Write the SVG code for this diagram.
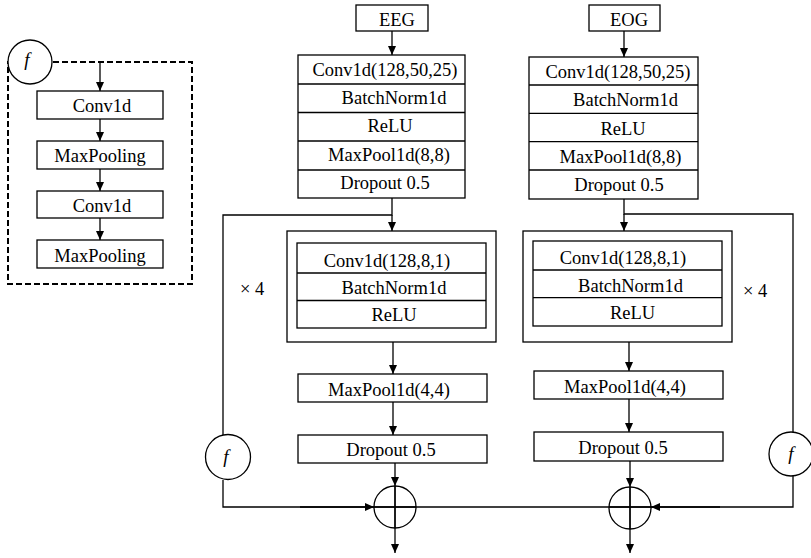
<svg xmlns="http://www.w3.org/2000/svg" width="811" height="558" viewBox="0 0 811 558">
<defs>
<marker id="ah" viewBox="0 0 9 8" refX="9" refY="4" markerWidth="9" markerHeight="8" markerUnits="userSpaceOnUse" orient="auto">
<path d="M0,0 L9,4 L0,8 z" fill="#000"/>
</marker>
<style>
.b{fill:#fff;stroke:#000;stroke-width:1.3}
.l{fill:none;stroke:#000;stroke-width:1.3}
.a{fill:none;stroke:#000;stroke-width:1.3;marker-end:url(#ah)}
.t{font-family:'Liberation Serif','Times New Roman','DejaVu Serif',serif;font-size:18.5px;fill:#000;text-anchor:middle}
.f{font-family:'Liberation Serif','Times New Roman','DejaVu Serif',serif;font-size:19px;font-style:italic;fill:#000;text-anchor:middle}
.x{font-family:'Liberation Serif','Times New Roman','DejaVu Serif',serif;font-size:18.5px;fill:#000}
</style>
</defs>
<rect width="811" height="558" fill="#fff"/>

<g id="connectors">
<line class="a" x1="100" y1="62" x2="100" y2="91"/>
<line class="a" x1="100" y1="119" x2="100" y2="141"/>
<line class="a" x1="100" y1="169" x2="100" y2="191"/>
<line class="a" x1="100" y1="218" x2="100" y2="240"/>
<line class="a" x1="392" y1="31" x2="392" y2="55"/>
<polyline class="l" points="392,198 392,215 223,215 223,435"/>
<line class="a" x1="392" y1="215" x2="392" y2="231"/>
<line class="a" x1="393" y1="342" x2="393" y2="374"/>
<line class="a" x1="393" y1="402" x2="393" y2="435"/>
<line class="a" x1="395" y1="463" x2="395" y2="486"/>
<line class="a" x1="395" y1="486" x2="395" y2="553"/>
<polyline class="l" points="223,480 223,507 374,507"/>
<line class="a" x1="300" y1="507" x2="374" y2="507"/>
<line class="l" x1="374" y1="507" x2="651" y2="507"/>
<line class="a" x1="624" y1="31" x2="624" y2="57"/>
<polyline class="l" points="624,199 624,214 793,214 793,432"/>
<line class="a" x1="624" y1="214" x2="624" y2="231"/>
<line class="a" x1="629" y1="342" x2="629" y2="371"/>
<line class="a" x1="629" y1="399" x2="629" y2="432"/>
<line class="a" x1="630" y1="461" x2="630" y2="487"/>
<line class="a" x1="630" y1="487" x2="630" y2="553"/>
<polyline class="l" points="793,476 793,507 651,507"/>
<line class="a" x1="720" y1="507" x2="651" y2="507"/>
</g>

<g id="legend">
<rect x="8" y="62" width="184" height="222" fill="none" stroke="#000" stroke-width="2" stroke-dasharray="6,3"/>
<circle cx="30" cy="62" r="22" class="b"/>
<text class="f" x="27" y="66">f</text>
<rect class="b" x="37" y="91" width="126" height="28"/>
<text class="t" x="102" y="112">Conv1d</text>
<rect class="b" x="37" y="141" width="126" height="28"/>
<text class="t" x="100" y="162">MaxPooling</text>
<rect class="b" x="37" y="191" width="126" height="27"/>
<text class="t" x="102" y="212">Conv1d</text>
<rect class="b" x="37" y="240" width="126" height="28"/>
<text class="t" x="100" y="262">MaxPooling</text>
</g>

<g id="eeg-input">
<rect class="b" x="356" y="5" width="72" height="26"/>
<text class="t" x="397" y="26">EEG</text>
</g>
<g id="eeg-block1">
<rect class="b" x="298" y="55" width="167" height="143"/>
<line class="l" x1="298" y1="84" x2="465" y2="84"/>
<line class="l" x1="298" y1="112.5" x2="465" y2="112.5"/>
<line class="l" x1="298" y1="141" x2="465" y2="141"/>
<line class="l" x1="298" y1="170" x2="465" y2="170"/>
<text class="t" x="385" y="76">Conv1d(128,50,25)</text>
<text class="t" x="394" y="104">BatchNorm1d</text>
<text class="t" x="390" y="132">ReLU</text>
<text class="t" x="389" y="161">MaxPool1d(8,8)</text>
<text class="t" x="385" y="189">Dropout 0.5</text>
</g>
<g id="eeg-repeat">
<rect class="b" x="287" y="231" width="209" height="111"/>
<rect class="b" x="297" y="243" width="189" height="85"/>
<line class="l" x1="297" y1="273" x2="486" y2="273"/>
<line class="l" x1="297" y1="300.5" x2="486" y2="300.5"/>
<text class="t" x="387" y="267">Conv1d(128,8,1)</text>
<text class="t" x="394" y="294">BatchNorm1d</text>
<text class="t" x="394" y="321">ReLU</text>
</g>
<g id="eeg-x4"><text class="x" x="240" y="295">× 4</text></g>
<g id="eeg-maxpool">
<rect class="b" x="298" y="374" width="189" height="28"/>
<text class="t" x="389" y="396">MaxPool1d(4,4)</text>
</g>
<g id="eeg-dropout">
<rect class="b" x="298" y="435" width="189" height="28"/>
<text class="t" x="391" y="456">Dropout 0.5</text>
</g>
<g id="eeg-f">
<circle class="b" cx="228" cy="457" r="22.5"/>
<text class="f" x="226" y="463">f</text>
</g>
<g id="eeg-sum">
<circle cx="395" cy="507" r="21" fill="none" stroke="#000" stroke-width="1.3"/>
<line class="l" x1="395" y1="486" x2="395" y2="528"/>
<line class="l" x1="374" y1="507" x2="416" y2="507"/>
</g>

<g id="eog-input">
<rect class="b" x="589" y="5" width="71" height="26"/>
<text class="t" x="629" y="26">EOG</text>
</g>
<g id="eog-block1">
<rect class="b" x="529" y="57" width="169" height="142"/>
<line class="l" x1="529" y1="85" x2="698" y2="85"/>
<line class="l" x1="529" y1="113.3" x2="698" y2="113.3"/>
<line class="l" x1="529" y1="141.7" x2="698" y2="141.7"/>
<line class="l" x1="529" y1="170" x2="698" y2="170"/>
<text class="t" x="618" y="78">Conv1d(128,50,25)</text>
<text class="t" x="625.5" y="106">BatchNorm1d</text>
<text class="t" x="623" y="134.5">ReLU</text>
<text class="t" x="620.5" y="163">MaxPool1d(8,8)</text>
<text class="t" x="619" y="191">Dropout 0.5</text>
</g>
<g id="eog-repeat">
<rect class="b" x="523" y="231" width="209" height="111"/>
<rect class="b" x="533" y="241" width="189" height="85"/>
<line class="l" x1="533" y1="270" x2="722" y2="270"/>
<line class="l" x1="533" y1="297.7" x2="722" y2="297.7"/>
<text class="t" x="623" y="264">Conv1d(128,8,1)</text>
<text class="t" x="630.5" y="291.5">BatchNorm1d</text>
<text class="t" x="632.5" y="319">ReLU</text>
</g>
<g id="eog-x4"><text class="x" x="743" y="296.5">× 4</text></g>
<g id="eog-maxpool">
<rect class="b" x="534" y="371" width="189" height="28"/>
<text class="t" x="625" y="393">MaxPool1d(4,4)</text>
</g>
<g id="eog-dropout">
<rect class="b" x="534" y="432" width="189" height="29"/>
<text class="t" x="623" y="454">Dropout 0.5</text>
</g>
<g id="eog-f">
<circle class="b" cx="791" cy="454" r="22"/>
<text class="f" x="791" y="460">f</text>
</g>
<g id="eog-sum">
<circle cx="630" cy="508" r="21" fill="none" stroke="#000" stroke-width="1.3"/>
<line class="l" x1="630" y1="487" x2="630" y2="529"/>
<line class="l" x1="609" y1="507" x2="651" y2="507"/>
</g>
</svg>
